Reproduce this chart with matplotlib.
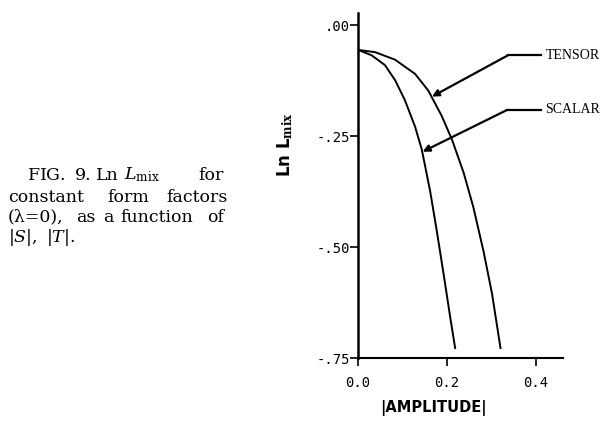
import matplotlib.pyplot as plt
import numpy as np

# curves: ln L_mix vs |amplitude|
scalar_x = [0.0, 0.030, 0.060, 0.083, 0.105, 0.128, 0.143, 0.162, 0.177, 0.192, 0.207, 0.218]
scalar_y = [-0.056, -0.068, -0.090, -0.124, -0.169, -0.229, -0.280, -0.375, -0.465, -0.560, -0.658, -0.727]

tensor_x = [0.0, 0.038, 0.083, 0.128, 0.158, 0.188, 0.211, 0.237, 0.259, 0.282, 0.301, 0.320]
tensor_y = [-0.056, -0.061, -0.078, -0.110, -0.148, -0.205, -0.258, -0.332, -0.410, -0.510, -0.605, -0.727]

# label leader lines: [label end, knee, arrow tip]
tensor_leader_x = [0.410, 0.337, 0.166]
tensor_leader_y = [-0.068, -0.068, -0.161]
scalar_leader_x = [0.410, 0.335, 0.145]
scalar_leader_y = [-0.191, -0.191, -0.285]

yticks = [0.0, -0.25, -0.50, -0.75]
ytick_labels = ['.00', '-.25', '-.50', '-.75']
xticks = [0.0, 0.2, 0.4]
xtick_labels = ['0.0', '0.2', '0.4']

plt.rcParams['mathtext.fontset'] = 'dejavuserif'

fig = plt.figure(figsize=(6.03, 4.21), dpi=100)
ax = fig.add_axes([0.594, 0.149, 0.340, 0.820])

ax.plot(scalar_x, scalar_y, color='black', lw=1.4, solid_joinstyle='round')
ax.plot(tensor_x, tensor_y, color='black', lw=1.4, solid_joinstyle='round')

for lx, ly, name in [(tensor_leader_x, tensor_leader_y, 'TENSOR'),
                     (scalar_leader_x, scalar_leader_y, 'SCALAR')]:
    ax.plot(lx[:2], ly[:2], color='black', lw=1.6, clip_on=False)
    ax.annotate('', xy=(lx[2], ly[2]), xytext=(lx[1], ly[1]),
                arrowprops=dict(arrowstyle='-|>', color='black', lw=1.6,
                                mutation_scale=10, shrinkA=0, shrinkB=0),
                annotation_clip=False)
    ax.text(lx[0] + 0.011, ly[0], name, fontsize=10, family='Liberation Serif',
            va='center', ha='left', clip_on=False)

ax.set_xlim(0, 0.461)
ax.set_ylim(-0.75, 0.027)
ax.set_xticks(xticks)
ax.set_xticklabels(xtick_labels, family='DejaVu Sans Mono', fontsize=10)
ax.set_yticks(yticks)
ax.set_yticklabels(ytick_labels, family='DejaVu Sans Mono', fontsize=10)
ax.tick_params(direction='out', length=6, width=1.2, pad=0)
ax.tick_params(axis='x', pad=7)

for s in ['top', 'right']:
    ax.spines[s].set_visible(False)
ax.spines['left'].set_linewidth(1.8)
ax.spines['bottom'].set_linewidth(1.5)

ax.set_ylabel(r'Ln L$_{\mathbf{mix}}$', fontsize=12, fontweight='bold',
              family='DejaVu Sans')
ax.yaxis.set_label_coords(-0.31, 0.62)
ax.set_xlabel('|AMPLITUDE|', fontsize=10.5, fontweight='bold', family='DejaVu Sans')
ax.xaxis.set_label_coords(0.365, -0.122)

# caption on the left, words placed to mimic the justified block
cap = dict(fontsize=12.5, family='DejaVu Serif', va='center', ha='left')
caption_lines = [
    (175, [(27, r'F$\mathrm{IG}$.'), (75, '9.'), (96, 'Ln'),
           (124, r'$L_{\mathrm{mix}}$'), (198, 'for')]),
    (197, [(8, 'constant'), (107, 'form'), (166, 'factors')]),
    (217, [(8, '(λ=0),'), (76, 'as'), (103, 'a'), (120, 'function'), (207, 'of')]),
    (238, [(8, r'$|S|$,'), (46, r'$|T|$.')]),
]
for y_px, words in caption_lines:
    for x_px, w in words:
        fig.text(x_px / 603, 1 - y_px / 421, w, **cap)

fig.savefig('out.png', dpi=100, facecolor='white')
